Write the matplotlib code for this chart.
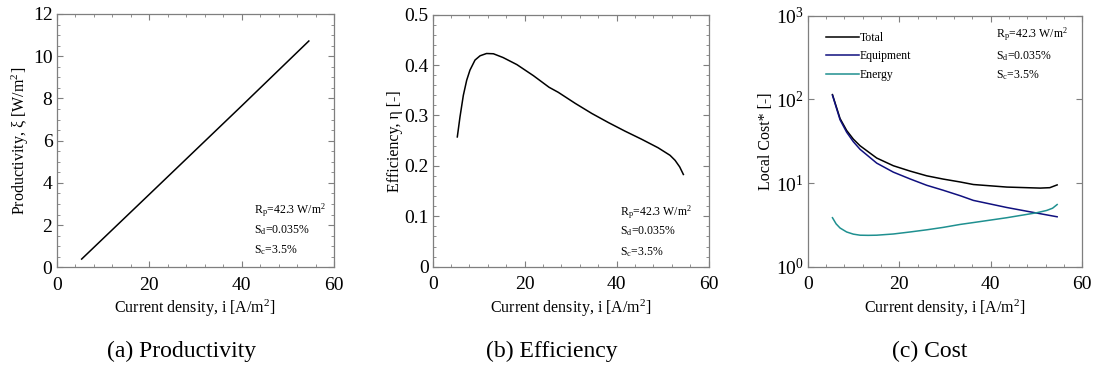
import numpy as np
import matplotlib
matplotlib.use('Agg')
import matplotlib.pyplot as plt
from matplotlib.ticker import AutoMinorLocator, MultipleLocator, LogLocator, NullLocator

plt.rcParams['font.family'] = ['Liberation Serif', 'DejaVu Serif']
plt.rcParams['mathtext.fontset'] = 'stix'

# --- (a) Productivity ---
i_prod = [5.4, 20, 30, 40, 54.5]
productivity = [0.39, 3.45, 5.55, 7.65, 10.72]

# --- (b) Efficiency ---
i_eff = [5.35, 5.93, 6.66, 7.39, 8.1, 9.2, 10.3, 11.7, 13.2, 15.3, 18.3, 21.9, 25.3,
         27.3, 31.0, 34.6, 38.2, 41.8, 45.4, 49.0, 51.6, 52.7, 53.7, 54.5]
efficiency = [0.2575, 0.297, 0.340, 0.370, 0.390, 0.410, 0.4185, 0.423, 0.4225, 0.415,
              0.401, 0.379, 0.356, 0.346, 0.324, 0.304, 0.286, 0.269, 0.253, 0.236,
              0.221, 0.211, 0.198, 0.183]

# --- (c) Cost ---
i_total = [5.4, 7.06, 8.5, 9.96, 11.43, 15.07, 18.7, 22.35, 26.0, 29.6, 33.3, 36.2,
           43.5, 50.8, 52.9, 54.5]
cost_total = [114, 59, 42.5, 33.5, 27.9, 19.9, 16.1, 13.9, 12.2, 11.15, 10.3, 9.6,
              8.95, 8.7, 8.8, 9.5]
i_equip = [5.4, 7.06, 8.5, 9.96, 11.43, 15.07, 18.7, 22.35, 26.0, 29.6, 33.3, 36.2,
           43.5, 50.8, 54.5]
cost_equipment = [112, 57, 40.5, 31.2, 25.3, 17.3, 13.5, 11.2, 9.4, 8.2, 7.06, 6.2,
                  5.1, 4.3, 3.95]
i_energy = [5.4, 6.2, 7.06, 8.5, 9.96, 11.43, 13.2, 15.07, 18.7, 22.35, 26.0, 29.6,
            33.3, 36.2, 43.5, 50.0, 52.2, 53.5, 54.5]
cost_energy = [3.85, 3.25, 2.9, 2.6, 2.45, 2.38, 2.37, 2.38, 2.46, 2.6, 2.76, 2.95,
               3.2, 3.37, 3.85, 4.41, 4.7, 5.0, 5.53]

params = ['R$_\\mathregular{p}$=42.3 W/m$^\\mathregular{2}$',
          'S$_\\mathregular{d}$=0.035%',
          'S$_\\mathregular{c}$=3.5%']

SPINE = '#7f7f7f'
fig = plt.figure(figsize=(10.96, 3.76), dpi=100)

ax_a = fig.add_axes([0.0517, 0.2891, 0.2533, 0.6737])
ax_b = fig.add_axes([0.3948, 0.2907, 0.2518, 0.6702])
ax_c = fig.add_axes([0.7370, 0.2907, 0.2505, 0.6675])


def style(ax):
    for s in ax.spines.values():
        s.set_color(SPINE)
        s.set_linewidth(0.9)
    ax.tick_params(which='both', direction='in', top=True, right=True,
                   color=SPINE, labelsize=14)
    ax.tick_params(axis='x', which='major', pad=7)
    ax.tick_params(axis='y', which='major', pad=3)
    ax.tick_params(which='major', length=4)
    ax.tick_params(which='minor', length=2.5)
    ax.set_xlim(0, 60)
    ax.xaxis.set_major_locator(MultipleLocator(20))
    ax.set_xlabel('Current density, i [A/m$^\\mathregular{2}$]', fontsize=11.5, labelpad=3)


def add_params(ax, x, ys):
    for txt, y in zip(params, ys):
        ax.text(x, y, txt, transform=ax.transAxes, fontsize=8.5, va='center', ha='left')


# (a)
style(ax_a)
ax_a.plot(i_prod, productivity, color='black', lw=1.1)
ax_a.set_ylim(0, 12)
ax_a.yaxis.set_major_locator(MultipleLocator(2))
ax_a.xaxis.set_minor_locator(AutoMinorLocator(5))
ax_a.yaxis.set_minor_locator(AutoMinorLocator(4))
ax_a.set_ylabel('Productivity, ξ [W/m$^\\mathregular{2}$]', fontsize=11.5, labelpad=1)
add_params(ax_a, 0.71, [0.225, 0.145, 0.067])

# (b)
style(ax_b)
ax_b.plot(i_eff, efficiency, color='black', lw=1.1)
ax_b.set_ylim(0, 0.5)
ax_b.yaxis.set_major_locator(MultipleLocator(0.1))
ax_b.yaxis.set_major_formatter(plt.FuncFormatter(lambda v, p: '0' if v == 0 else f'{v:.1f}'))
ax_b.xaxis.set_minor_locator(AutoMinorLocator(5))
ax_b.yaxis.set_minor_locator(AutoMinorLocator(5))
ax_b.set_ylabel('Efficiency, η [-]', fontsize=11.5, labelpad=1)
add_params(ax_b, 0.68, [0.217, 0.141, 0.058])

# (c)
style(ax_c)
ax_c.semilogy(i_total, cost_total, color='black', lw=1.1, label='Total')
ax_c.semilogy(i_equip, cost_equipment, color='#10107f', lw=1.1, label='Equipment')
ax_c.semilogy(i_energy, cost_energy, color='#1f9090', lw=1.1, label='Energy')
ax_c.set_ylim(1, 1000)
ax_c.yaxis.set_major_locator(LogLocator(base=10, numticks=5))
ax_c.yaxis.set_minor_locator(NullLocator())
ax_c.xaxis.set_minor_locator(AutoMinorLocator(5))
ax_c.set_ylabel('Local Cost* [-]', fontsize=11.5, labelpad=1)
leg = ax_c.legend(loc='upper left', frameon=False, fontsize=8.5, handlelength=2.8,
                  handletextpad=0.05, labelspacing=0.55, borderaxespad=0.0,
                  bbox_to_anchor=(0.05, 0.955))
add_params(ax_c, 0.686, [0.925, 0.84, 0.763])

# captions
fig.text(0.1658, 0.065, '(a) Productivity', ha='center', va='center', fontsize=17)
fig.text(0.5034, 0.065, '(b) Efficiency', ha='center', va='center', fontsize=17)
fig.text(0.8485, 0.065, '(c) Cost', ha='center', va='center', fontsize=17)

fig.savefig('out.png', dpi=100)
